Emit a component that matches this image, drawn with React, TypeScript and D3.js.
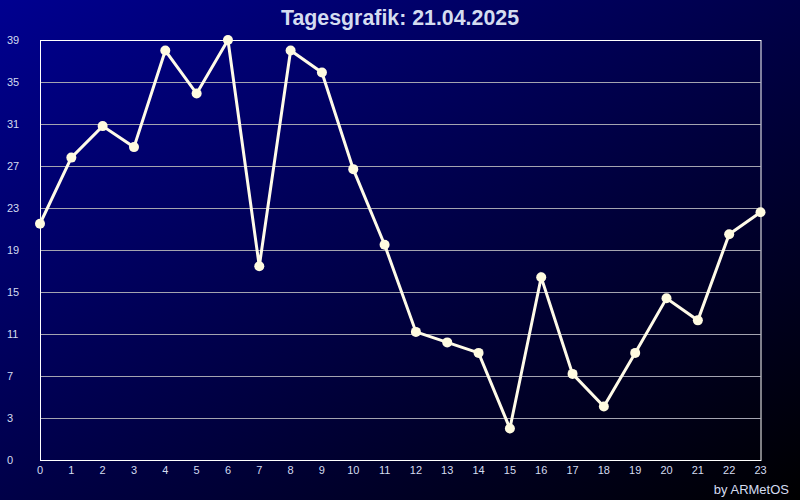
import React from "react";
import * as d3 from "d3";

const hours = [0,1,2,3,4,5,6,7,8,9,10,11,12,13,14,15,16,17,18,19,20,21,22,23];
const values = [21.5,27.8,30.8,28.8,38,33.9,39,17.45,38,35.9,26.7,19.5,11.2,10.2,9.2,2.0,16.4,7.2,4.1,9.2,14.4,12.3,20.5,22.6];
const yTickValues = [-1,3,7,11,15,19,23,27,31,35,39];
const yTickLabels = ["0","3","7","11","15","19","23","27","31","35","39"];
const xTickLabels = hours.map(String);
const title = "Tagesgrafik: 21.04.2025";
const credit = "by ARMetOS";

const W = 800, H = 500;
const M = { left: 40, right: 40, top: 40, bottom: 40 };

export default function App() {
  const x = d3.scaleLinear().domain([0, 23]).range([M.left, W - M.right + 0.5]);
  const y = d3.scaleLinear().domain([-1, 39]).range([H - M.bottom, M.top]);
  const line = d3.line<number>().x((_, i) => x(hours[i])).y(d => y(d));
  const textColor = "#d4dcf0";
  const font = "Liberation Sans, Arial, sans-serif";
  return (
    <svg width={W} height={H} style={{ position: "absolute", left: 0, top: 0 }}>
      <defs>
        <linearGradient id="bg" x1="0" y1="0" x2="1" y2="1">
          <stop offset="0%" stopColor="#000090" />
          <stop offset="100%" stopColor="#000000" />
        </linearGradient>
      </defs>
      <rect x={0} y={0} width={W} height={H} fill="url(#bg)" />
      <text x={W / 2} y={25} textAnchor="middle" fill={textColor}
        textLength={238} lengthAdjust="spacingAndGlyphs"
        style={{ fontFamily: "Liberation Sans Narrow, Liberation Sans, Arial, sans-serif", fontWeight: "bold", fontSize: 22 }}>
        {title}
      </text>
      {yTickValues.map((v, i) => (
        <g key={"y" + i}>
          {v > -1 && v < 39 && (
            <line x1={x(0)} x2={x(23)} y1={Math.round(y(v)) + 0.5} y2={Math.round(y(v)) + 0.5} stroke="#a4a4b0" strokeWidth={1} />
          )}
          <text x={7} y={y(v) + 4} fill={textColor} style={{ fontFamily: font, fontSize: 11 }}>{yTickLabels[i]}</text>
        </g>
      ))}
      <rect x={x(0) + 0.5} y={y(39) + 0.5} width={x(23) - x(0)} height={y(-1) - y(39)} fill="none" stroke="#ffffff" strokeWidth={1} />
      {hours.map((h, i) => (
        <text key={"x" + i} x={x(h)} y={474} textAnchor="middle" fill={textColor} style={{ fontFamily: font, fontSize: 11 }}>
          {xTickLabels[i]}
        </text>
      ))}
      <path d={line(values) || ""} fill="none" stroke="#fffbe8" strokeWidth={3} strokeLinejoin="miter" />
      {values.map((v, i) => (
        <circle key={"p" + i} cx={x(hours[i])} cy={y(v)} r={5} fill="#fffbe0" />
      ))}
      <text x={789} y={494} textAnchor="end" fill={textColor} style={{ fontFamily: font, fontSize: 13 }}>{credit}</text>
    </svg>
  );
}
